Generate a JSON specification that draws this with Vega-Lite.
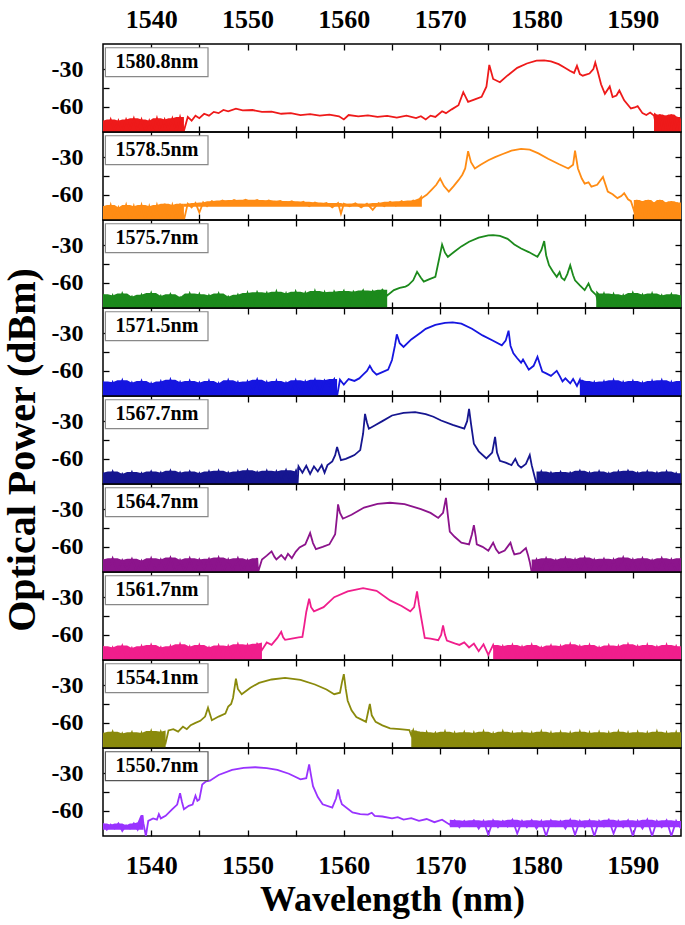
{
"$schema":"https://vega.github.io/schema/vega-lite/v6.json",
"padding":{"left":2,"top":5,"right":5,"bottom":5},
"config":{"font":"Liberation Serif","view":{"stroke":"black","strokeWidth":1.5},
"axis":{"grid":false,"domain":false,"tickColor":"black","tickWidth":1.3,"tickSize":-6,"labelFont":"Liberation Serif","labelFontWeight":"bold","labelFontSize":24,"labelColor":"black","titleFont":"Liberation Serif","titleFontWeight":"bold","titleFontSize":36,"titleColor":"black"}},
"datasets":{
"p1":[{"x":1535.0,"y":-71},{"x":1535.4,"y":-80},{"x":1535.8,"y":-70},{"x":1536.2,"y":-79},{"x":1536.6,"y":-71},{"x":1537.0,"y":-82},{"x":1537.4,"y":-70},{"x":1537.8,"y":-78},{"x":1538.2,"y":-69},{"x":1538.6,"y":-81},{"x":1539.0,"y":-70},{"x":1539.4,"y":-79},{"x":1539.8,"y":-71},{"x":1540.2,"y":-82},{"x":1540.6,"y":-69},{"x":1541.0,"y":-80},{"x":1541.4,"y":-70},{"x":1541.8,"y":-78},{"x":1542.2,"y":-69},{"x":1542.6,"y":-82},{"x":1543.0,"y":-68},{"x":1543.4,"y":-79},{"x":1543.8,"y":-68},{"x":1544.2,"y":-71},{"x":1544.6,"y":-67},{"x":1545.0,"y":-69},{"x":1545.5,"y":-65.5},{"x":1546.0,"y":-67},{"x":1546.5,"y":-64},{"x":1547.0,"y":-65},{"x":1547.5,"y":-62.5},{"x":1548.0,"y":-63.5},{"x":1548.8,"y":-61.5},{"x":1549.5,"y":-62.8},{"x":1550.5,"y":-62.5},{"x":1551.5,"y":-64},{"x":1552.5,"y":-63.8},{"x":1553.5,"y":-65.5},{"x":1554.5,"y":-65},{"x":1555.5,"y":-66.5},{"x":1556.5,"y":-65.8},{"x":1557.5,"y":-67},{"x":1558.5,"y":-66.2},{"x":1559.5,"y":-67.5},{"x":1560.0,"y":-70},{"x":1560.5,"y":-66.5},{"x":1561.5,"y":-67.5},{"x":1562.5,"y":-66.8},{"x":1563.5,"y":-68},{"x":1564.5,"y":-67.2},{"x":1565.5,"y":-68.5},{"x":1566.5,"y":-67},{"x":1567.5,"y":-69},{"x":1568.0,"y":-67.5},{"x":1568.5,"y":-70},{"x":1569.0,"y":-67},{"x":1569.5,"y":-68},{"x":1570.2,"y":-63.5},{"x":1570.6,"y":-65},{"x":1571.2,"y":-62},{"x":1571.9,"y":-58.7},{"x":1572.4,"y":-48.3},{"x":1572.9,"y":-56},{"x":1573.6,"y":-54},{"x":1574.3,"y":-52},{"x":1574.8,"y":-44},{"x":1575.1,"y":-26.6},{"x":1575.5,"y":-37.8},{"x":1576.2,"y":-40.4},{"x":1577.0,"y":-35},{"x":1578.0,"y":-29},{"x":1579.0,"y":-25.5},{"x":1580.0,"y":-23.3},{"x":1580.8,"y":-23},{"x":1581.5,"y":-23.8},{"x":1582.3,"y":-26},{"x":1582.9,"y":-28.7},{"x":1583.5,"y":-31.5},{"x":1583.9,"y":-33},{"x":1584.2,"y":-27.4},{"x":1584.5,"y":-34},{"x":1584.8,"y":-35.2},{"x":1585.5,"y":-33.5},{"x":1585.9,"y":-30},{"x":1586.1,"y":-24.8},{"x":1586.4,"y":-33},{"x":1586.7,"y":-42},{"x":1587.1,"y":-49.6},{"x":1587.6,"y":-43.8},{"x":1587.9,"y":-52.2},{"x":1588.3,"y":-51},{"x":1588.6,"y":-47},{"x":1589.1,"y":-54.8},{"x":1589.8,"y":-61.3},{"x":1590.2,"y":-60.5},{"x":1590.5,"y":-59.5},{"x":1591.0,"y":-65},{"x":1591.4,"y":-66.5},{"x":1591.8,"y":-64.5},{"x":1592.2,"y":-67},{"x":1592.5,"y":-78},{"x":1592.8,"y":-66},{"x":1593.1,"y":-80},{"x":1593.4,"y":-67},{"x":1593.7,"y":-82},{"x":1594.0,"y":-66},{"x":1594.3,"y":-81},{"x":1594.6,"y":-68},{"x":1594.9,"y":-83},{"x":1595.0,"y":-70}],
"p2":[{"x":1535.0,"y":-69},{"x":1535.4,"y":-79},{"x":1535.8,"y":-68},{"x":1536.2,"y":-81},{"x":1536.6,"y":-70},{"x":1537.0,"y":-78},{"x":1537.4,"y":-68},{"x":1537.8,"y":-80},{"x":1538.2,"y":-69},{"x":1538.6,"y":-82},{"x":1539.0,"y":-68},{"x":1539.4,"y":-79},{"x":1539.8,"y":-69},{"x":1540.2,"y":-81},{"x":1540.6,"y":-68},{"x":1541.0,"y":-78},{"x":1541.4,"y":-67},{"x":1541.8,"y":-80},{"x":1542.2,"y":-68},{"x":1542.6,"y":-79},{"x":1543.0,"y":-67},{"x":1543.4,"y":-82},{"x":1543.8,"y":-67},{"x":1544.2,"y":-70},{"x":1544.6,"y":-66.5},{"x":1545.0,"y":-74},{"x":1545.4,"y":-66},{"x":1545.8,"y":-69},{"x":1546.3,"y":-65},{"x":1546.8,"y":-67},{"x":1547.4,"y":-64.5},{"x":1548.0,"y":-66.5},{"x":1548.6,"y":-64},{"x":1549.2,"y":-66},{"x":1549.8,"y":-63.8},{"x":1550.4,"y":-66},{"x":1551.0,"y":-64},{"x":1551.6,"y":-66.5},{"x":1552.2,"y":-64.5},{"x":1552.8,"y":-66},{"x":1553.4,"y":-64.8},{"x":1554.0,"y":-67},{"x":1554.6,"y":-65},{"x":1555.2,"y":-67.5},{"x":1555.8,"y":-65.5},{"x":1556.4,"y":-69},{"x":1557.0,"y":-66},{"x":1557.6,"y":-68},{"x":1558.2,"y":-66.5},{"x":1558.8,"y":-70},{"x":1559.4,"y":-66.5},{"x":1559.7,"y":-75},{"x":1560.0,"y":-67},{"x":1560.6,"y":-69},{"x":1561.2,"y":-66.8},{"x":1561.8,"y":-70},{"x":1562.4,"y":-67},{"x":1563.0,"y":-72},{"x":1563.6,"y":-66.5},{"x":1564.2,"y":-69},{"x":1564.8,"y":-65.5},{"x":1565.4,"y":-68.5},{"x":1566.0,"y":-65},{"x":1566.6,"y":-68},{"x":1567.2,"y":-64.5},{"x":1567.8,"y":-66},{"x":1568.1,"y":-62.6},{"x":1568.6,"y":-60},{"x":1569.1,"y":-56},{"x":1569.6,"y":-52},{"x":1570.0,"y":-47},{"x":1570.4,"y":-53},{"x":1570.9,"y":-57.4},{"x":1571.4,"y":-53},{"x":1571.9,"y":-48.3},{"x":1572.3,"y":-44},{"x":1572.6,"y":-39},{"x":1572.9,"y":-25.3},{"x":1573.2,"y":-34},{"x":1573.6,"y":-39},{"x":1574.2,"y":-36},{"x":1575.0,"y":-32.5},{"x":1575.7,"y":-30},{"x":1576.5,"y":-27.5},{"x":1577.4,"y":-24.8},{"x":1578.4,"y":-23.5},{"x":1579.3,"y":-24},{"x":1580.2,"y":-27},{"x":1581.2,"y":-31.3},{"x":1582.3,"y":-35.5},{"x":1583.3,"y":-39},{"x":1583.8,"y":-36},{"x":1584.0,"y":-24.8},{"x":1584.3,"y":-39},{"x":1584.7,"y":-47},{"x":1585.0,"y":-51},{"x":1585.4,"y":-50},{"x":1585.7,"y":-53.5},{"x":1586.3,"y":-52},{"x":1586.9,"y":-45.7},{"x":1587.4,"y":-57.4},{"x":1587.9,"y":-59.5},{"x":1588.4,"y":-62.6},{"x":1588.8,"y":-61},{"x":1589.1,"y":-58.7},{"x":1589.5,"y":-63.5},{"x":1589.8,"y":-65},{"x":1590.1,"y":-72},{"x":1590.4,"y":-64},{"x":1590.7,"y":-77},{"x":1591.0,"y":-65},{"x":1591.3,"y":-79},{"x":1591.6,"y":-64},{"x":1591.9,"y":-76},{"x":1592.2,"y":-66},{"x":1592.5,"y":-80},{"x":1592.8,"y":-64},{"x":1593.1,"y":-78},{"x":1593.4,"y":-66},{"x":1593.7,"y":-79},{"x":1594.0,"y":-65},{"x":1594.3,"y":-77},{"x":1594.6,"y":-66},{"x":1595.0,"y":-78}],
"p3":[{"x":1535.0,"y":-69},{"x":1535.5,"y":-79},{"x":1536.0,"y":-70},{"x":1536.5,"y":-82},{"x":1537.0,"y":-68.5},{"x":1537.5,"y":-77},{"x":1538.0,"y":-71},{"x":1538.5,"y":-81},{"x":1539.0,"y":-69.5},{"x":1539.5,"y":-78},{"x":1540.0,"y":-68},{"x":1540.5,"y":-83},{"x":1541.0,"y":-70.5},{"x":1541.5,"y":-80},{"x":1542.0,"y":-69},{"x":1542.5,"y":-76},{"x":1543.0,"y":-71.5},{"x":1543.5,"y":-81},{"x":1544.0,"y":-68.5},{"x":1544.5,"y":-79},{"x":1545.0,"y":-69},{"x":1545.5,"y":-82},{"x":1546.0,"y":-70},{"x":1546.5,"y":-77},{"x":1547.0,"y":-68.5},{"x":1547.5,"y":-81},{"x":1548.0,"y":-71},{"x":1548.5,"y":-78},{"x":1549.0,"y":-69.5},{"x":1549.5,"y":-83},{"x":1550.0,"y":-68},{"x":1550.5,"y":-80},{"x":1551.0,"y":-67.5},{"x":1551.5,"y":-76},{"x":1552.0,"y":-68},{"x":1552.5,"y":-81},{"x":1553.0,"y":-67},{"x":1553.5,"y":-79},{"x":1554.0,"y":-68.5},{"x":1554.5,"y":-82},{"x":1555.0,"y":-67},{"x":1555.5,"y":-77},{"x":1556.0,"y":-68},{"x":1556.5,"y":-81},{"x":1557.0,"y":-66.5},{"x":1557.5,"y":-78},{"x":1558.0,"y":-67.5},{"x":1558.5,"y":-83},{"x":1559.0,"y":-67},{"x":1559.5,"y":-74},{"x":1560.0,"y":-66.5},{"x":1560.5,"y":-80},{"x":1561.0,"y":-67},{"x":1561.5,"y":-72},{"x":1562.0,"y":-66},{"x":1562.5,"y":-78},{"x":1563.0,"y":-66.5},{"x":1563.5,"y":-71},{"x":1564.0,"y":-65.5},{"x":1564.5,"y":-70},{"x":1565.2,"y":-65.8},{"x":1565.8,"y":-64},{"x":1566.4,"y":-63},{"x":1566.7,"y":-61.8},{"x":1567.2,"y":-58},{"x":1567.6,"y":-51.2},{"x":1568.0,"y":-56},{"x":1568.3,"y":-59},{"x":1568.9,"y":-57},{"x":1569.5,"y":-55.2},{"x":1569.9,"y":-40.6},{"x":1570.2,"y":-29.5},{"x":1570.5,"y":-36},{"x":1570.8,"y":-39.3},{"x":1571.5,"y":-35},{"x":1572.2,"y":-31},{"x":1573.0,"y":-27.3},{"x":1574.0,"y":-24},{"x":1575.0,"y":-22.3},{"x":1575.5,"y":-22},{"x":1576.2,"y":-22.6},{"x":1577.0,"y":-25},{"x":1577.7,"y":-29.5},{"x":1578.4,"y":-32.7},{"x":1579.2,"y":-35.5},{"x":1579.8,"y":-38},{"x":1580.1,"y":-39.3},{"x":1580.5,"y":-34},{"x":1580.8,"y":-26.8},{"x":1581.0,"y":-38},{"x":1581.3,"y":-46},{"x":1581.7,"y":-51},{"x":1582.1,"y":-55.2},{"x":1582.4,"y":-51.5},{"x":1582.6,"y":-56},{"x":1582.9,"y":-57.8},{"x":1583.2,"y":-53},{"x":1583.5,"y":-46},{"x":1583.8,"y":-54},{"x":1584.0,"y":-58},{"x":1584.5,"y":-62},{"x":1585.0,"y":-65.8},{"x":1585.4,"y":-60.5},{"x":1585.7,"y":-66},{"x":1586.2,"y":-69.8},{"x":1586.5,"y":-78},{"x":1587.0,"y":-68.5},{"x":1587.5,"y":-82},{"x":1588.0,"y":-69},{"x":1588.5,"y":-79},{"x":1589.0,"y":-70},{"x":1589.5,"y":-81},{"x":1590.0,"y":-68},{"x":1590.5,"y":-77},{"x":1591.0,"y":-69.5},{"x":1591.5,"y":-80},{"x":1592.0,"y":-68.5},{"x":1592.5,"y":-82},{"x":1593.0,"y":-70},{"x":1593.5,"y":-78},{"x":1594.0,"y":-69},{"x":1594.5,"y":-81},{"x":1595.0,"y":-70}],
"p4":[{"x":1535.0,"y":-68.5},{"x":1535.5,"y":-80},{"x":1536.0,"y":-69},{"x":1536.5,"y":-78},{"x":1537.0,"y":-67.5},{"x":1537.5,"y":-81},{"x":1538.0,"y":-69.5},{"x":1538.5,"y":-77},{"x":1539.0,"y":-68},{"x":1539.5,"y":-82},{"x":1540.0,"y":-70},{"x":1540.5,"y":-79},{"x":1541.0,"y":-68.5},{"x":1541.5,"y":-80},{"x":1542.0,"y":-67},{"x":1542.5,"y":-78},{"x":1543.0,"y":-69},{"x":1543.5,"y":-83},{"x":1544.0,"y":-68},{"x":1544.5,"y":-77},{"x":1545.0,"y":-69.5},{"x":1545.5,"y":-81},{"x":1546.0,"y":-68},{"x":1546.5,"y":-79},{"x":1547.0,"y":-70},{"x":1547.5,"y":-82},{"x":1548.0,"y":-67.5},{"x":1548.5,"y":-78},{"x":1549.0,"y":-69},{"x":1549.5,"y":-80},{"x":1550.0,"y":-68.5},{"x":1550.5,"y":-77},{"x":1551.0,"y":-67},{"x":1551.5,"y":-81},{"x":1552.0,"y":-69},{"x":1552.5,"y":-79},{"x":1553.0,"y":-68},{"x":1553.5,"y":-82},{"x":1554.0,"y":-69.5},{"x":1554.5,"y":-78},{"x":1555.0,"y":-67.5},{"x":1555.5,"y":-80},{"x":1556.0,"y":-68.5},{"x":1556.5,"y":-77},{"x":1557.0,"y":-67},{"x":1557.5,"y":-79},{"x":1558.0,"y":-67.5},{"x":1558.5,"y":-72},{"x":1559.0,"y":-66.5},{"x":1559.3,"y":-80},{"x":1559.6,"y":-67},{"x":1560.0,"y":-71},{"x":1560.5,"y":-66.5},{"x":1561.1,"y":-68},{"x":1561.6,"y":-66},{"x":1562.0,"y":-63},{"x":1562.4,"y":-60},{"x":1562.7,"y":-56},{"x":1563.0,"y":-60},{"x":1563.4,"y":-63},{"x":1564.0,"y":-61},{"x":1564.6,"y":-59},{"x":1565.0,"y":-51.4},{"x":1565.3,"y":-40},{"x":1565.5,"y":-31},{"x":1565.8,"y":-38},{"x":1566.2,"y":-41},{"x":1567.0,"y":-35},{"x":1568.0,"y":-29.5},{"x":1568.5,"y":-26.6},{"x":1569.5,"y":-23.5},{"x":1570.5,"y":-21.8},{"x":1571.3,"y":-21.4},{"x":1572.2,"y":-22.5},{"x":1573.3,"y":-26.5},{"x":1574.4,"y":-31.8},{"x":1575.5,"y":-36},{"x":1576.4,"y":-39.7},{"x":1576.8,"y":-36},{"x":1577.1,"y":-28},{"x":1577.3,"y":-40},{"x":1577.6,"y":-46},{"x":1578.0,"y":-50},{"x":1578.4,"y":-53.5},{"x":1578.6,"y":-51},{"x":1579.2,"y":-59},{"x":1579.7,"y":-56},{"x":1580.1,"y":-48.8},{"x":1580.4,"y":-56},{"x":1580.6,"y":-60.5},{"x":1581.0,"y":-62},{"x":1581.5,"y":-64},{"x":1581.8,"y":-62},{"x":1582.1,"y":-60},{"x":1582.4,"y":-64},{"x":1582.7,"y":-68.4},{"x":1583.0,"y":-66},{"x":1583.5,"y":-70},{"x":1583.8,"y":-66.5},{"x":1584.2,"y":-72},{"x":1584.5,"y":-67},{"x":1584.8,"y":-80},{"x":1585.0,"y":-68},{"x":1585.5,"y":-81},{"x":1586.0,"y":-69},{"x":1586.5,"y":-78},{"x":1587.0,"y":-68.5},{"x":1587.5,"y":-80},{"x":1588.0,"y":-67.5},{"x":1588.5,"y":-82},{"x":1589.0,"y":-69},{"x":1589.5,"y":-77},{"x":1590.0,"y":-68},{"x":1590.5,"y":-79},{"x":1591.0,"y":-69.5},{"x":1591.5,"y":-81},{"x":1592.0,"y":-68},{"x":1592.5,"y":-78},{"x":1593.0,"y":-67.5},{"x":1593.5,"y":-80},{"x":1594.0,"y":-69},{"x":1594.5,"y":-79},{"x":1595.0,"y":-68}],
"p5":[{"x":1535.0,"y":-71},{"x":1535.5,"y":-80},{"x":1536.0,"y":-70},{"x":1536.5,"y":-82},{"x":1537.0,"y":-72},{"x":1537.5,"y":-79},{"x":1538.0,"y":-70.5},{"x":1538.5,"y":-81},{"x":1539.0,"y":-71.5},{"x":1539.5,"y":-78},{"x":1540.0,"y":-70},{"x":1540.5,"y":-83},{"x":1541.0,"y":-71},{"x":1541.5,"y":-80},{"x":1542.0,"y":-69.5},{"x":1542.5,"y":-79},{"x":1543.0,"y":-71},{"x":1543.5,"y":-82},{"x":1544.0,"y":-70},{"x":1544.5,"y":-78},{"x":1545.0,"y":-71.5},{"x":1545.5,"y":-81},{"x":1546.0,"y":-70},{"x":1546.5,"y":-80},{"x":1547.0,"y":-69.5},{"x":1547.5,"y":-83},{"x":1548.0,"y":-71},{"x":1548.5,"y":-79},{"x":1549.0,"y":-70},{"x":1549.5,"y":-81},{"x":1550.0,"y":-69},{"x":1550.5,"y":-78},{"x":1551.0,"y":-70.5},{"x":1551.5,"y":-82},{"x":1552.0,"y":-69.5},{"x":1552.5,"y":-80},{"x":1553.0,"y":-70},{"x":1553.5,"y":-79},{"x":1554.0,"y":-69},{"x":1554.5,"y":-82},{"x":1555.0,"y":-70},{"x":1555.2,"y":-81},{"x":1555.3,"y":-66},{"x":1555.7,"y":-71},{"x":1556.1,"y":-65.5},{"x":1556.5,"y":-72},{"x":1556.9,"y":-66},{"x":1557.3,"y":-70},{"x":1557.7,"y":-65},{"x":1558.0,"y":-71},{"x":1558.3,"y":-65},{"x":1558.8,"y":-62},{"x":1559.1,"y":-57},{"x":1559.3,"y":-50.5},{"x":1559.5,"y":-56},{"x":1559.7,"y":-61},{"x":1560.2,"y":-60},{"x":1560.8,"y":-58},{"x":1561.1,"y":-57},{"x":1561.7,"y":-53},{"x":1562.0,"y":-40},{"x":1562.2,"y":-24.2},{"x":1562.4,"y":-31},{"x":1562.6,"y":-36},{"x":1563.2,"y":-33.5},{"x":1564.0,"y":-30},{"x":1565.0,"y":-25.5},{"x":1566.2,"y":-23.5},{"x":1567.4,"y":-22.9},{"x":1568.5,"y":-24.5},{"x":1569.3,"y":-26.5},{"x":1570.1,"y":-29.5},{"x":1571.3,"y":-33},{"x":1572.5,"y":-36},{"x":1572.8,"y":-30},{"x":1573.0,"y":-20.3},{"x":1573.2,"y":-32},{"x":1573.5,"y":-48},{"x":1574.0,"y":-54},{"x":1574.8,"y":-59.7},{"x":1575.4,"y":-55},{"x":1575.7,"y":-42.6},{"x":1575.9,"y":-55},{"x":1576.2,"y":-61.5},{"x":1576.8,"y":-63},{"x":1577.4,"y":-65},{"x":1577.8,"y":-60},{"x":1578.1,"y":-65},{"x":1578.4,"y":-67},{"x":1578.9,"y":-64},{"x":1579.3,"y":-57},{"x":1579.5,"y":-65},{"x":1579.8,"y":-74},{"x":1580.0,"y":-80},{"x":1580.5,"y":-70},{"x":1581.0,"y":-81},{"x":1581.5,"y":-71},{"x":1582.0,"y":-79},{"x":1582.5,"y":-70.5},{"x":1583.0,"y":-82},{"x":1583.5,"y":-71},{"x":1584.0,"y":-78},{"x":1584.5,"y":-69.5},{"x":1585.0,"y":-80},{"x":1585.5,"y":-71},{"x":1586.0,"y":-83},{"x":1586.5,"y":-70},{"x":1587.0,"y":-79},{"x":1587.5,"y":-71.5},{"x":1588.0,"y":-81},{"x":1588.5,"y":-70},{"x":1589.0,"y":-80},{"x":1589.5,"y":-69.5},{"x":1590.0,"y":-78},{"x":1590.5,"y":-71},{"x":1591.0,"y":-82},{"x":1591.5,"y":-70},{"x":1592.0,"y":-79},{"x":1592.5,"y":-71},{"x":1593.0,"y":-81},{"x":1593.5,"y":-70},{"x":1594.0,"y":-80},{"x":1594.5,"y":-71.5},{"x":1595.0,"y":-79}],
"p6":[{"x":1535.0,"y":-70},{"x":1535.5,"y":-79},{"x":1536.0,"y":-69},{"x":1536.5,"y":-82},{"x":1537.0,"y":-70.5},{"x":1537.5,"y":-78},{"x":1538.0,"y":-69.5},{"x":1538.5,"y":-81},{"x":1539.0,"y":-71},{"x":1539.5,"y":-80},{"x":1540.0,"y":-69},{"x":1540.5,"y":-83},{"x":1541.0,"y":-70},{"x":1541.5,"y":-78},{"x":1542.0,"y":-68.5},{"x":1542.5,"y":-81},{"x":1543.0,"y":-70.5},{"x":1543.5,"y":-79},{"x":1544.0,"y":-69},{"x":1544.5,"y":-82},{"x":1545.0,"y":-70},{"x":1545.5,"y":-77},{"x":1546.0,"y":-69.5},{"x":1546.5,"y":-80},{"x":1547.0,"y":-68.5},{"x":1547.5,"y":-81},{"x":1548.0,"y":-70},{"x":1548.5,"y":-79},{"x":1549.0,"y":-69},{"x":1549.5,"y":-83},{"x":1550.0,"y":-70.5},{"x":1550.5,"y":-78},{"x":1551.0,"y":-69},{"x":1551.1,"y":-80},{"x":1551.5,"y":-70},{"x":1552.0,"y":-67},{"x":1552.5,"y":-63.6},{"x":1552.8,"y":-68},{"x":1553.0,"y":-70},{"x":1553.5,"y":-66.5},{"x":1553.9,"y":-70},{"x":1554.2,"y":-65.5},{"x":1554.6,"y":-69},{"x":1555.0,"y":-64},{"x":1555.4,"y":-60.5},{"x":1556.0,"y":-58},{"x":1556.5,"y":-49},{"x":1556.8,"y":-57},{"x":1557.1,"y":-61.8},{"x":1557.8,"y":-60},{"x":1558.5,"y":-58},{"x":1559.1,"y":-50},{"x":1559.3,"y":-35},{"x":1559.4,"y":-26.2},{"x":1559.6,"y":-33},{"x":1559.9,"y":-37.6},{"x":1560.8,"y":-34.5},{"x":1562.1,"y":-28.7},{"x":1563.5,"y":-25.8},{"x":1564.8,"y":-24.9},{"x":1566.3,"y":-26},{"x":1568.0,"y":-30},{"x":1569.0,"y":-33},{"x":1569.8,"y":-37},{"x":1570.3,"y":-33},{"x":1570.6,"y":-21},{"x":1570.8,"y":-35},{"x":1571.0,"y":-47.8},{"x":1571.5,"y":-52},{"x":1572.2,"y":-56.7},{"x":1573.0,"y":-58},{"x":1573.3,"y":-50},{"x":1573.5,"y":-42.7},{"x":1573.7,"y":-52},{"x":1573.8,"y":-58},{"x":1574.4,"y":-60},{"x":1575.0,"y":-63},{"x":1575.5,"y":-56.7},{"x":1575.8,"y":-62},{"x":1576.1,"y":-65},{"x":1576.7,"y":-63},{"x":1577.3,"y":-56.7},{"x":1577.5,"y":-62},{"x":1577.7,"y":-66},{"x":1578.3,"y":-65},{"x":1578.9,"y":-61},{"x":1579.1,"y":-66},{"x":1579.3,"y":-72},{"x":1579.5,"y":-80},{"x":1580.0,"y":-70},{"x":1580.5,"y":-81},{"x":1581.0,"y":-69},{"x":1581.5,"y":-78},{"x":1582.0,"y":-70.5},{"x":1582.5,"y":-82},{"x":1583.0,"y":-69},{"x":1583.5,"y":-79},{"x":1584.0,"y":-70},{"x":1584.5,"y":-80},{"x":1585.0,"y":-68.5},{"x":1585.5,"y":-83},{"x":1586.0,"y":-70},{"x":1586.5,"y":-78},{"x":1587.0,"y":-69.5},{"x":1587.5,"y":-81},{"x":1588.0,"y":-70},{"x":1588.5,"y":-79},{"x":1589.0,"y":-68.5},{"x":1589.5,"y":-80},{"x":1590.0,"y":-70},{"x":1590.5,"y":-82},{"x":1591.0,"y":-69},{"x":1591.5,"y":-78},{"x":1592.0,"y":-70.5},{"x":1592.5,"y":-81},{"x":1593.0,"y":-69},{"x":1593.5,"y":-79},{"x":1594.0,"y":-70},{"x":1594.5,"y":-82},{"x":1595.0,"y":-69}],
"p7":[{"x":1535.0,"y":-69},{"x":1535.5,"y":-80},{"x":1536.0,"y":-70},{"x":1536.5,"y":-78},{"x":1537.0,"y":-68.5},{"x":1537.5,"y":-82},{"x":1538.0,"y":-70.5},{"x":1538.5,"y":-79},{"x":1539.0,"y":-69},{"x":1539.5,"y":-81},{"x":1540.0,"y":-68},{"x":1540.5,"y":-77},{"x":1541.0,"y":-70},{"x":1541.5,"y":-80},{"x":1542.0,"y":-69},{"x":1542.5,"y":-83},{"x":1543.0,"y":-67.5},{"x":1543.5,"y":-79},{"x":1544.0,"y":-69.5},{"x":1544.5,"y":-81},{"x":1545.0,"y":-68},{"x":1545.5,"y":-78},{"x":1546.0,"y":-70},{"x":1546.5,"y":-82},{"x":1547.0,"y":-68.5},{"x":1547.5,"y":-80},{"x":1548.0,"y":-69},{"x":1548.5,"y":-79},{"x":1549.0,"y":-67.5},{"x":1549.5,"y":-81},{"x":1550.0,"y":-68},{"x":1550.5,"y":-76},{"x":1551.0,"y":-67},{"x":1551.5,"y":-72},{"x":1552.0,"y":-66},{"x":1552.5,"y":-68},{"x":1553.1,"y":-62.4},{"x":1553.5,"y":-57.6},{"x":1553.7,"y":-62},{"x":1553.9,"y":-64},{"x":1554.6,"y":-63},{"x":1555.3,"y":-62},{"x":1555.7,"y":-61.6},{"x":1555.9,"y":-52},{"x":1556.1,"y":-41.8},{"x":1556.4,"y":-31.3},{"x":1556.6,"y":-38},{"x":1556.9,"y":-41.3},{"x":1557.9,"y":-38},{"x":1559.0,"y":-30},{"x":1560.4,"y":-25.5},{"x":1562.0,"y":-22.9},{"x":1563.4,"y":-25},{"x":1564.8,"y":-32.6},{"x":1566.0,"y":-37},{"x":1566.9,"y":-41.3},{"x":1567.3,"y":-38},{"x":1567.6,"y":-25.5},{"x":1567.8,"y":-36},{"x":1568.0,"y":-45},{"x":1568.4,"y":-62.4},{"x":1569.0,"y":-63},{"x":1569.8,"y":-64.2},{"x":1570.1,"y":-60},{"x":1570.3,"y":-52.4},{"x":1570.5,"y":-60},{"x":1570.7,"y":-64.5},{"x":1571.5,"y":-66.8},{"x":1572.0,"y":-68},{"x":1572.5,"y":-66},{"x":1573.0,"y":-70},{"x":1573.5,"y":-67},{"x":1574.0,"y":-73},{"x":1574.5,"y":-67.5},{"x":1575.0,"y":-76},{"x":1575.5,"y":-68},{"x":1576.0,"y":-80},{"x":1576.5,"y":-69},{"x":1577.0,"y":-78},{"x":1577.5,"y":-68},{"x":1578.0,"y":-81},{"x":1578.5,"y":-69.5},{"x":1579.0,"y":-79},{"x":1579.5,"y":-68},{"x":1580.0,"y":-82},{"x":1580.5,"y":-70},{"x":1581.0,"y":-77},{"x":1581.5,"y":-68.5},{"x":1582.0,"y":-80},{"x":1582.5,"y":-69},{"x":1583.0,"y":-79},{"x":1583.5,"y":-67.5},{"x":1584.0,"y":-81},{"x":1584.5,"y":-69},{"x":1585.0,"y":-78},{"x":1585.5,"y":-68},{"x":1586.0,"y":-83},{"x":1586.5,"y":-70},{"x":1587.0,"y":-79},{"x":1587.5,"y":-68.5},{"x":1588.0,"y":-80},{"x":1588.5,"y":-69},{"x":1589.0,"y":-82},{"x":1589.5,"y":-67.5},{"x":1590.0,"y":-78},{"x":1590.5,"y":-69},{"x":1591.0,"y":-80},{"x":1591.5,"y":-68},{"x":1592.0,"y":-81},{"x":1592.5,"y":-69.5},{"x":1593.0,"y":-79},{"x":1593.5,"y":-68},{"x":1594.0,"y":-82},{"x":1594.5,"y":-69},{"x":1595.0,"y":-78}],
"p8":[{"x":1535.0,"y":-68},{"x":1535.5,"y":-77},{"x":1536.0,"y":-67},{"x":1536.5,"y":-79},{"x":1537.0,"y":-68.5},{"x":1537.5,"y":-76},{"x":1538.0,"y":-67.5},{"x":1538.5,"y":-80},{"x":1539.0,"y":-68},{"x":1539.5,"y":-78},{"x":1540.0,"y":-66.5},{"x":1540.5,"y":-81},{"x":1541.0,"y":-67},{"x":1541.5,"y":-76},{"x":1541.8,"y":-66},{"x":1542.3,"y":-65},{"x":1542.8,"y":-67},{"x":1543.3,"y":-63},{"x":1543.7,"y":-65},{"x":1544.1,"y":-61.8},{"x":1544.6,"y":-60},{"x":1545.1,"y":-58.4},{"x":1545.6,"y":-55},{"x":1545.9,"y":-48},{"x":1546.1,"y":-53},{"x":1546.3,"y":-57.9},{"x":1547.0,"y":-55},{"x":1547.7,"y":-52.7},{"x":1548.0,"y":-47},{"x":1548.3,"y":-45},{"x":1548.5,"y":-40},{"x":1548.8,"y":-24.8},{"x":1549.0,"y":-33},{"x":1549.4,"y":-37.2},{"x":1550.3,"y":-32},{"x":1551.2,"y":-28.2},{"x":1552.5,"y":-25.5},{"x":1553.9,"y":-24.3},{"x":1555.5,"y":-25.8},{"x":1557.0,"y":-29.5},{"x":1558.2,"y":-33.5},{"x":1559.0,"y":-37.2},{"x":1559.6,"y":-36},{"x":1559.8,"y":-28},{"x":1560.0,"y":-21.2},{"x":1560.2,"y":-33},{"x":1560.4,"y":-42.4},{"x":1560.8,"y":-50},{"x":1561.3,"y":-55.3},{"x":1562.0,"y":-58},{"x":1562.3,"y":-59.2},{"x":1562.5,"y":-52},{"x":1562.7,"y":-45},{"x":1562.9,"y":-54},{"x":1563.3,"y":-59.2},{"x":1564.0,"y":-62},{"x":1564.8,"y":-64.4},{"x":1565.8,"y":-65},{"x":1566.8,"y":-65.7},{"x":1567.0,"y":-70},{"x":1567.2,"y":-66},{"x":1567.5,"y":-76},{"x":1567.8,"y":-67},{"x":1568.2,"y":-80},{"x":1568.6,"y":-67.5},{"x":1569.0,"y":-74},{"x":1569.5,"y":-68},{"x":1570.0,"y":-79},{"x":1570.5,"y":-67},{"x":1571.0,"y":-81},{"x":1571.5,"y":-68},{"x":1572.0,"y":-78},{"x":1572.5,"y":-67.5},{"x":1573.0,"y":-82},{"x":1573.5,"y":-68},{"x":1574.0,"y":-79},{"x":1574.5,"y":-67},{"x":1575.0,"y":-80},{"x":1575.5,"y":-68.5},{"x":1576.0,"y":-82},{"x":1576.5,"y":-67},{"x":1577.0,"y":-79},{"x":1577.5,"y":-68},{"x":1578.0,"y":-81},{"x":1578.5,"y":-67.5},{"x":1579.0,"y":-78},{"x":1579.5,"y":-68},{"x":1580.0,"y":-82},{"x":1580.5,"y":-67},{"x":1581.0,"y":-79},{"x":1581.5,"y":-68},{"x":1582.0,"y":-81},{"x":1582.5,"y":-67.5},{"x":1583.0,"y":-80},{"x":1583.5,"y":-68},{"x":1584.0,"y":-82},{"x":1584.5,"y":-67},{"x":1585.0,"y":-79},{"x":1585.5,"y":-68},{"x":1586.0,"y":-81},{"x":1586.5,"y":-67.5},{"x":1587.0,"y":-80},{"x":1587.5,"y":-68},{"x":1588.0,"y":-82},{"x":1588.5,"y":-67},{"x":1589.0,"y":-79},{"x":1589.5,"y":-68},{"x":1590.0,"y":-81},{"x":1590.5,"y":-67.5},{"x":1591.0,"y":-80},{"x":1591.5,"y":-68},{"x":1592.0,"y":-82},{"x":1592.5,"y":-67},{"x":1593.0,"y":-79},{"x":1593.5,"y":-68},{"x":1594.0,"y":-81},{"x":1594.5,"y":-67.5},{"x":1595.0,"y":-80}],
"p9":[{"x":1535.0,"y":-70},{"x":1535.4,"y":-75},{"x":1535.8,"y":-71},{"x":1536.2,"y":-74},{"x":1536.6,"y":-70},{"x":1537.0,"y":-76},{"x":1537.4,"y":-71.5},{"x":1537.8,"y":-74},{"x":1538.2,"y":-70},{"x":1538.6,"y":-75},{"x":1538.9,"y":-69},{"x":1539.06,"y":-63.4},{"x":1539.2,"y":-70},{"x":1539.45,"y":-82},{"x":1539.7,"y":-68},{"x":1540.2,"y":-66},{"x":1540.6,"y":-67},{"x":1540.8,"y":-62.6},{"x":1541.0,"y":-66},{"x":1541.5,"y":-64},{"x":1542.2,"y":-58.7},{"x":1542.7,"y":-55},{"x":1543.0,"y":-46},{"x":1543.2,"y":-53},{"x":1543.4,"y":-58.7},{"x":1543.9,"y":-56},{"x":1544.3,"y":-55},{"x":1544.6,"y":-48},{"x":1544.8,"y":-52},{"x":1545.0,"y":-51},{"x":1545.3,"y":-39},{"x":1545.7,"y":-36.5},{"x":1546.1,"y":-36},{"x":1547.0,"y":-31.5},{"x":1548.4,"y":-27.4},{"x":1549.6,"y":-25.8},{"x":1550.8,"y":-25.3},{"x":1552.0,"y":-26},{"x":1553.1,"y":-27.4},{"x":1554.3,"y":-30.5},{"x":1555.5,"y":-35},{"x":1556.1,"y":-34},{"x":1556.4,"y":-23},{"x":1556.6,"y":-32},{"x":1556.8,"y":-40.4},{"x":1557.3,"y":-49},{"x":1557.8,"y":-54.8},{"x":1558.8,"y":-57.4},{"x":1559.2,"y":-50},{"x":1559.4,"y":-43},{"x":1559.6,"y":-50},{"x":1559.8,"y":-54.8},{"x":1560.9,"y":-61.3},{"x":1561.7,"y":-62.6},{"x":1562.5,"y":-63},{"x":1562.9,"y":-61.5},{"x":1563.2,"y":-64},{"x":1564.0,"y":-64.5},{"x":1565.0,"y":-66},{"x":1565.6,"y":-65},{"x":1566.2,"y":-67},{"x":1567.0,"y":-65.8},{"x":1567.8,"y":-68},{"x":1568.6,"y":-66.5},{"x":1569.4,"y":-69},{"x":1570.2,"y":-67},{"x":1571.0,"y":-71},{"x":1571.5,"y":-67.5},{"x":1572.0,"y":-73},{"x":1572.5,"y":-68},{"x":1573.0,"y":-72},{"x":1573.5,"y":-67.5},{"x":1574.0,"y":-74},{"x":1574.5,"y":-68},{"x":1575.0,"y":-79},{"x":1575.5,"y":-67.5},{"x":1576.0,"y":-73},{"x":1576.5,"y":-68},{"x":1577.0,"y":-72.5},{"x":1577.5,"y":-67},{"x":1578.0,"y":-78},{"x":1578.5,"y":-68},{"x":1579.0,"y":-73},{"x":1579.5,"y":-67.5},{"x":1580.0,"y":-74},{"x":1580.5,"y":-68},{"x":1581.0,"y":-80},{"x":1581.5,"y":-67.5},{"x":1582.0,"y":-72},{"x":1582.5,"y":-68},{"x":1583.0,"y":-74},{"x":1583.5,"y":-67},{"x":1584.0,"y":-79},{"x":1584.5,"y":-68},{"x":1585.0,"y":-73},{"x":1585.5,"y":-67.5},{"x":1586.0,"y":-80},{"x":1586.5,"y":-68},{"x":1587.0,"y":-72.5},{"x":1587.5,"y":-67},{"x":1588.0,"y":-78},{"x":1588.5,"y":-68},{"x":1589.0,"y":-73},{"x":1589.5,"y":-67.5},{"x":1590.0,"y":-80},{"x":1590.5,"y":-68},{"x":1591.0,"y":-74},{"x":1591.5,"y":-67},{"x":1592.0,"y":-81},{"x":1592.5,"y":-68},{"x":1593.0,"y":-73},{"x":1593.5,"y":-67.5},{"x":1594.0,"y":-80},{"x":1594.5,"y":-68},{"x":1595.0,"y":-74}]
},
"hconcat":[
{"width":20,"height":812,"view":{"stroke":null},"data":{"values":[{"t":"Optical Power (dBm)"}]},
 "mark":{"type":"text","angle":270,"fontSize":40,"fontWeight":"bold","font":"Liberation Serif","align":"center","baseline":"middle","color":"black"},
 "encoding":{"text":{"field":"t","type":"nominal"}}},
{"spacing":0,"bounds":"flush","vconcat":[
{"width":578,"height":88,"data":{"name":"p1"},"resolve":{"axis":{"x":"independent","y":"independent"}},"layer":[
 {"transform":[{"window":[{"op":"max","field":"y","as":"top"}],"frame":[-1,1],"sort":[{"field":"x"}]},{"filter":"datum.x <= 1543.4"}],"mark":{"type":"area","color":"#ee1a1a","clip":true},"encoding":{"x":{"field":"x","type":"quantitative","axis":null,"scale":{"domain":[1535,1595],"nice":false,"zero":false}},"y":{"field":"top","type":"quantitative","axis":null,"scale":{"domain":[-80,-10],"nice":false,"zero":false,"clamp":true}},"y2":{"datum":-80}}},
 {"transform":[{"window":[{"op":"max","field":"y","as":"top"}],"frame":[-1,1],"sort":[{"field":"x"}]},{"filter":"datum.x >= 1592.2"}],"mark":{"type":"area","color":"#ee1a1a","clip":true},"encoding":{"x":{"field":"x","type":"quantitative","axis":null},"y":{"field":"top","type":"quantitative","axis":null},"y2":{"datum":-80}}},
 {"mark":{"type":"line","color":"#ee1a1a","strokeWidth":1.8,"clip":true},"encoding":{"x":{"field":"x","type":"quantitative","scale":{"domain":[1535,1595],"nice":false,"zero":false},"axis":{"orient":"bottom","values":[1540,1545,1550,1555,1560,1565,1570,1575,1580,1585,1590],"labels":false,"title":null}},"y":{"field":"y","type":"quantitative","scale":{"domain":[-80,-10],"nice":false,"zero":false,"clamp":true},"axis":{"orient":"left","values":[-30,-45,-60],"labelExpr":"datum.value === -45 ? '' : '-' + abs(datum.value)","labelPadding":26,"title":null}}}},
 {"data":{"values":[{}]},"mark":{"type":"rect","fill":"white","stroke":"#888888","strokeWidth":1.2},"encoding":{"x":{"datum":1535.25,"type":"quantitative","axis":{"orient":"top","values":[1540,1545,1550,1555,1560,1565,1570,1575,1580,1585,1590],"labelExpr":"datum.value % 10 === 0 ? '' + datum.value : ''","labelPadding":18,"labelFontSize":26,"title":null}},"x2":{"datum":1545.9},"y":{"datum":-13,"type":"quantitative","axis":{"orient":"right","values":[-30,-45,-60],"labels":false,"title":null}},"y2":{"datum":-36}}},
 {"data":{"values":[{"t":"1580.8nm"}]},"mark":{"type":"text","fontSize":20,"fontWeight":"bold","font":"Liberation Serif","color":"black"},"encoding":{"x":{"datum":1540.6,"type":"quantitative","axis":null},"y":{"datum":-24.5,"type":"quantitative","axis":null},"text":{"field":"t","type":"nominal"}}}
]},
{"width":578,"height":88,"data":{"name":"p2"},"resolve":{"axis":{"x":"independent","y":"independent"}},"layer":[
 {"transform":[{"window":[{"op":"max","field":"y","as":"top"}],"frame":[-1,1],"sort":[{"field":"x"}]},{"filter":"datum.x <= 1543.4"}],"mark":{"type":"area","color":"#ff8c14","clip":true},"encoding":{"x":{"field":"x","type":"quantitative","axis":null,"scale":{"domain":[1535,1595],"nice":false,"zero":false}},"y":{"field":"top","type":"quantitative","axis":null,"scale":{"domain":[-80,-10],"nice":false,"zero":false,"clamp":true}},"y2":{"datum":-80}}},
 {"transform":[{"window":[{"op":"max","field":"y","as":"top"}],"frame":[-1,1],"sort":[{"field":"x"}]},{"filter":"datum.x >= 1543.4 && datum.x <= 1568.1"}],"mark":{"type":"area","color":"#ff8c14","clip":true},"encoding":{"x":{"field":"x","type":"quantitative","axis":null},"y":{"field":"top","type":"quantitative","axis":null},"y2":{"datum":-69.5}}},
 {"transform":[{"window":[{"op":"max","field":"y","as":"top"}],"frame":[-1,1],"sort":[{"field":"x"}]},{"filter":"datum.x >= 1590.1"}],"mark":{"type":"area","color":"#ff8c14","clip":true},"encoding":{"x":{"field":"x","type":"quantitative","axis":null},"y":{"field":"top","type":"quantitative","axis":null},"y2":{"datum":-80}}},
 {"mark":{"type":"line","color":"#ff8c14","strokeWidth":1.8,"clip":true},"encoding":{"x":{"field":"x","type":"quantitative","scale":{"domain":[1535,1595],"nice":false,"zero":false},"axis":{"orient":"bottom","values":[1540,1545,1550,1555,1560,1565,1570,1575,1580,1585,1590],"labels":false,"title":null}},"y":{"field":"y","type":"quantitative","scale":{"domain":[-80,-10],"nice":false,"zero":false,"clamp":true},"axis":{"orient":"left","values":[-30,-45,-60],"labelExpr":"datum.value === -45 ? '' : '-' + abs(datum.value)","labelPadding":26,"title":null}}}},
 {"data":{"values":[{}]},"mark":{"type":"rect","fill":"white","stroke":"#888888","strokeWidth":1.2},"encoding":{"x":{"datum":1535.25,"type":"quantitative","axis":{"orient":"top","values":[1540,1545,1550,1555,1560,1565,1570,1575,1580,1585,1590],"labels":false,"title":null}},"x2":{"datum":1545.9},"y":{"datum":-13,"type":"quantitative","axis":{"orient":"right","values":[-30,-45,-60],"labels":false,"title":null}},"y2":{"datum":-36}}},
 {"data":{"values":[{"t":"1578.5nm"}]},"mark":{"type":"text","fontSize":20,"fontWeight":"bold","font":"Liberation Serif","color":"black"},"encoding":{"x":{"datum":1540.6,"type":"quantitative","axis":null},"y":{"datum":-24.5,"type":"quantitative","axis":null},"text":{"field":"t","type":"nominal"}}}
]},
{"width":578,"height":88,"data":{"name":"p3"},"resolve":{"axis":{"x":"independent","y":"independent"}},"layer":[
 {"transform":[{"window":[{"op":"max","field":"y","as":"top"}],"frame":[-1,1],"sort":[{"field":"x"}]},{"filter":"datum.x <= 1564.5"}],"mark":{"type":"area","color":"#1c8a1c","clip":true},"encoding":{"x":{"field":"x","type":"quantitative","axis":null,"scale":{"domain":[1535,1595],"nice":false,"zero":false}},"y":{"field":"top","type":"quantitative","axis":null,"scale":{"domain":[-80,-10],"nice":false,"zero":false,"clamp":true}},"y2":{"datum":-80}}},
 {"transform":[{"window":[{"op":"max","field":"y","as":"top"}],"frame":[-1,1],"sort":[{"field":"x"}]},{"filter":"datum.x >= 1586.2"}],"mark":{"type":"area","color":"#1c8a1c","clip":true},"encoding":{"x":{"field":"x","type":"quantitative","axis":null},"y":{"field":"top","type":"quantitative","axis":null},"y2":{"datum":-80}}},
 {"mark":{"type":"line","color":"#1c8a1c","strokeWidth":1.8,"clip":true},"encoding":{"x":{"field":"x","type":"quantitative","scale":{"domain":[1535,1595],"nice":false,"zero":false},"axis":{"orient":"bottom","values":[1540,1545,1550,1555,1560,1565,1570,1575,1580,1585,1590],"labels":false,"title":null}},"y":{"field":"y","type":"quantitative","scale":{"domain":[-80,-10],"nice":false,"zero":false,"clamp":true},"axis":{"orient":"left","values":[-30,-45,-60],"labelExpr":"datum.value === -45 ? '' : '-' + abs(datum.value)","labelPadding":26,"title":null}}}},
 {"data":{"values":[{}]},"mark":{"type":"rect","fill":"white","stroke":"#888888","strokeWidth":1.2},"encoding":{"x":{"datum":1535.25,"type":"quantitative","axis":{"orient":"top","values":[1540,1545,1550,1555,1560,1565,1570,1575,1580,1585,1590],"labels":false,"title":null}},"x2":{"datum":1545.9},"y":{"datum":-13,"type":"quantitative","axis":{"orient":"right","values":[-30,-45,-60],"labels":false,"title":null}},"y2":{"datum":-36}}},
 {"data":{"values":[{"t":"1575.7nm"}]},"mark":{"type":"text","fontSize":20,"fontWeight":"bold","font":"Liberation Serif","color":"black"},"encoding":{"x":{"datum":1540.6,"type":"quantitative","axis":null},"y":{"datum":-24.5,"type":"quantitative","axis":null},"text":{"field":"t","type":"nominal"}}}
]},
{"width":578,"height":88,"data":{"name":"p4"},"resolve":{"axis":{"x":"independent","y":"independent"}},"layer":[
 {"transform":[{"window":[{"op":"max","field":"y","as":"top"}],"frame":[-1,1],"sort":[{"field":"x"}]},{"filter":"datum.x <= 1559.3"}],"mark":{"type":"area","color":"#1616e0","clip":true},"encoding":{"x":{"field":"x","type":"quantitative","axis":null,"scale":{"domain":[1535,1595],"nice":false,"zero":false}},"y":{"field":"top","type":"quantitative","axis":null,"scale":{"domain":[-80,-10],"nice":false,"zero":false,"clamp":true}},"y2":{"datum":-80}}},
 {"transform":[{"window":[{"op":"max","field":"y","as":"top"}],"frame":[-1,1],"sort":[{"field":"x"}]},{"filter":"datum.x >= 1584.5"}],"mark":{"type":"area","color":"#1616e0","clip":true},"encoding":{"x":{"field":"x","type":"quantitative","axis":null},"y":{"field":"top","type":"quantitative","axis":null},"y2":{"datum":-80}}},
 {"mark":{"type":"line","color":"#1616e0","strokeWidth":1.8,"clip":true},"encoding":{"x":{"field":"x","type":"quantitative","scale":{"domain":[1535,1595],"nice":false,"zero":false},"axis":{"orient":"bottom","values":[1540,1545,1550,1555,1560,1565,1570,1575,1580,1585,1590],"labels":false,"title":null}},"y":{"field":"y","type":"quantitative","scale":{"domain":[-80,-10],"nice":false,"zero":false,"clamp":true},"axis":{"orient":"left","values":[-30,-45,-60],"labelExpr":"datum.value === -45 ? '' : '-' + abs(datum.value)","labelPadding":26,"title":null}}}},
 {"data":{"values":[{}]},"mark":{"type":"rect","fill":"white","stroke":"#888888","strokeWidth":1.2},"encoding":{"x":{"datum":1535.25,"type":"quantitative","axis":{"orient":"top","values":[1540,1545,1550,1555,1560,1565,1570,1575,1580,1585,1590],"labels":false,"title":null}},"x2":{"datum":1545.9},"y":{"datum":-13,"type":"quantitative","axis":{"orient":"right","values":[-30,-45,-60],"labels":false,"title":null}},"y2":{"datum":-36}}},
 {"data":{"values":[{"t":"1571.5nm"}]},"mark":{"type":"text","fontSize":20,"fontWeight":"bold","font":"Liberation Serif","color":"black"},"encoding":{"x":{"datum":1540.6,"type":"quantitative","axis":null},"y":{"datum":-24.5,"type":"quantitative","axis":null},"text":{"field":"t","type":"nominal"}}}
]},
{"width":578,"height":88,"data":{"name":"p5"},"resolve":{"axis":{"x":"independent","y":"independent"}},"layer":[
 {"transform":[{"window":[{"op":"max","field":"y","as":"top"}],"frame":[-1,1],"sort":[{"field":"x"}]},{"filter":"datum.x <= 1555.2"}],"mark":{"type":"area","color":"#161690","clip":true},"encoding":{"x":{"field":"x","type":"quantitative","axis":null,"scale":{"domain":[1535,1595],"nice":false,"zero":false}},"y":{"field":"top","type":"quantitative","axis":null,"scale":{"domain":[-80,-10],"nice":false,"zero":false,"clamp":true}},"y2":{"datum":-80}}},
 {"transform":[{"window":[{"op":"max","field":"y","as":"top"}],"frame":[-1,1],"sort":[{"field":"x"}]},{"filter":"datum.x >= 1580.0"}],"mark":{"type":"area","color":"#161690","clip":true},"encoding":{"x":{"field":"x","type":"quantitative","axis":null},"y":{"field":"top","type":"quantitative","axis":null},"y2":{"datum":-80}}},
 {"mark":{"type":"line","color":"#161690","strokeWidth":1.8,"clip":true},"encoding":{"x":{"field":"x","type":"quantitative","scale":{"domain":[1535,1595],"nice":false,"zero":false},"axis":{"orient":"bottom","values":[1540,1545,1550,1555,1560,1565,1570,1575,1580,1585,1590],"labels":false,"title":null}},"y":{"field":"y","type":"quantitative","scale":{"domain":[-80,-10],"nice":false,"zero":false,"clamp":true},"axis":{"orient":"left","values":[-30,-45,-60],"labelExpr":"datum.value === -45 ? '' : '-' + abs(datum.value)","labelPadding":26,"title":null}}}},
 {"data":{"values":[{}]},"mark":{"type":"rect","fill":"white","stroke":"#888888","strokeWidth":1.2},"encoding":{"x":{"datum":1535.25,"type":"quantitative","axis":{"orient":"top","values":[1540,1545,1550,1555,1560,1565,1570,1575,1580,1585,1590],"labels":false,"title":null}},"x2":{"datum":1545.9},"y":{"datum":-13,"type":"quantitative","axis":{"orient":"right","values":[-30,-45,-60],"labels":false,"title":null}},"y2":{"datum":-36}}},
 {"data":{"values":[{"t":"1567.7nm"}]},"mark":{"type":"text","fontSize":20,"fontWeight":"bold","font":"Liberation Serif","color":"black"},"encoding":{"x":{"datum":1540.6,"type":"quantitative","axis":null},"y":{"datum":-24.5,"type":"quantitative","axis":null},"text":{"field":"t","type":"nominal"}}}
]},
{"width":578,"height":88,"data":{"name":"p6"},"resolve":{"axis":{"x":"independent","y":"independent"}},"layer":[
 {"transform":[{"window":[{"op":"max","field":"y","as":"top"}],"frame":[-1,1],"sort":[{"field":"x"}]},{"filter":"datum.x <= 1551.1"}],"mark":{"type":"area","color":"#8c148c","clip":true},"encoding":{"x":{"field":"x","type":"quantitative","axis":null,"scale":{"domain":[1535,1595],"nice":false,"zero":false}},"y":{"field":"top","type":"quantitative","axis":null,"scale":{"domain":[-80,-10],"nice":false,"zero":false,"clamp":true}},"y2":{"datum":-80}}},
 {"transform":[{"window":[{"op":"max","field":"y","as":"top"}],"frame":[-1,1],"sort":[{"field":"x"}]},{"filter":"datum.x >= 1579.5"}],"mark":{"type":"area","color":"#8c148c","clip":true},"encoding":{"x":{"field":"x","type":"quantitative","axis":null},"y":{"field":"top","type":"quantitative","axis":null},"y2":{"datum":-80}}},
 {"mark":{"type":"line","color":"#8c148c","strokeWidth":1.8,"clip":true},"encoding":{"x":{"field":"x","type":"quantitative","scale":{"domain":[1535,1595],"nice":false,"zero":false},"axis":{"orient":"bottom","values":[1540,1545,1550,1555,1560,1565,1570,1575,1580,1585,1590],"labels":false,"title":null}},"y":{"field":"y","type":"quantitative","scale":{"domain":[-80,-10],"nice":false,"zero":false,"clamp":true},"axis":{"orient":"left","values":[-30,-45,-60],"labelExpr":"datum.value === -45 ? '' : '-' + abs(datum.value)","labelPadding":26,"title":null}}}},
 {"data":{"values":[{}]},"mark":{"type":"rect","fill":"white","stroke":"#888888","strokeWidth":1.2},"encoding":{"x":{"datum":1535.25,"type":"quantitative","axis":{"orient":"top","values":[1540,1545,1550,1555,1560,1565,1570,1575,1580,1585,1590],"labels":false,"title":null}},"x2":{"datum":1545.9},"y":{"datum":-13,"type":"quantitative","axis":{"orient":"right","values":[-30,-45,-60],"labels":false,"title":null}},"y2":{"datum":-36}}},
 {"data":{"values":[{"t":"1564.7nm"}]},"mark":{"type":"text","fontSize":20,"fontWeight":"bold","font":"Liberation Serif","color":"black"},"encoding":{"x":{"datum":1540.6,"type":"quantitative","axis":null},"y":{"datum":-24.5,"type":"quantitative","axis":null},"text":{"field":"t","type":"nominal"}}}
]},
{"width":578,"height":88,"data":{"name":"p7"},"resolve":{"axis":{"x":"independent","y":"independent"}},"layer":[
 {"transform":[{"window":[{"op":"max","field":"y","as":"top"}],"frame":[-1,1],"sort":[{"field":"x"}]},{"filter":"datum.x <= 1551.5"}],"mark":{"type":"area","color":"#f01e8c","clip":true},"encoding":{"x":{"field":"x","type":"quantitative","axis":null,"scale":{"domain":[1535,1595],"nice":false,"zero":false}},"y":{"field":"top","type":"quantitative","axis":null,"scale":{"domain":[-80,-10],"nice":false,"zero":false,"clamp":true}},"y2":{"datum":-80}}},
 {"transform":[{"window":[{"op":"max","field":"y","as":"top"}],"frame":[-1,1],"sort":[{"field":"x"}]},{"filter":"datum.x >= 1575.5"}],"mark":{"type":"area","color":"#f01e8c","clip":true},"encoding":{"x":{"field":"x","type":"quantitative","axis":null},"y":{"field":"top","type":"quantitative","axis":null},"y2":{"datum":-80}}},
 {"mark":{"type":"line","color":"#f01e8c","strokeWidth":1.8,"clip":true},"encoding":{"x":{"field":"x","type":"quantitative","scale":{"domain":[1535,1595],"nice":false,"zero":false},"axis":{"orient":"bottom","values":[1540,1545,1550,1555,1560,1565,1570,1575,1580,1585,1590],"labels":false,"title":null}},"y":{"field":"y","type":"quantitative","scale":{"domain":[-80,-10],"nice":false,"zero":false,"clamp":true},"axis":{"orient":"left","values":[-30,-45,-60],"labelExpr":"datum.value === -45 ? '' : '-' + abs(datum.value)","labelPadding":26,"title":null}}}},
 {"data":{"values":[{}]},"mark":{"type":"rect","fill":"white","stroke":"#888888","strokeWidth":1.2},"encoding":{"x":{"datum":1535.25,"type":"quantitative","axis":{"orient":"top","values":[1540,1545,1550,1555,1560,1565,1570,1575,1580,1585,1590],"labels":false,"title":null}},"x2":{"datum":1545.9},"y":{"datum":-13,"type":"quantitative","axis":{"orient":"right","values":[-30,-45,-60],"labels":false,"title":null}},"y2":{"datum":-36}}},
 {"data":{"values":[{"t":"1561.7nm"}]},"mark":{"type":"text","fontSize":20,"fontWeight":"bold","font":"Liberation Serif","color":"black"},"encoding":{"x":{"datum":1540.6,"type":"quantitative","axis":null},"y":{"datum":-24.5,"type":"quantitative","axis":null},"text":{"field":"t","type":"nominal"}}}
]},
{"width":578,"height":88,"data":{"name":"p8"},"resolve":{"axis":{"x":"independent","y":"independent"}},"layer":[
 {"transform":[{"window":[{"op":"max","field":"y","as":"top"}],"frame":[-1,1],"sort":[{"field":"x"}]},{"filter":"datum.x <= 1541.5"}],"mark":{"type":"area","color":"#8a8a0c","clip":true},"encoding":{"x":{"field":"x","type":"quantitative","axis":null,"scale":{"domain":[1535,1595],"nice":false,"zero":false}},"y":{"field":"top","type":"quantitative","axis":null,"scale":{"domain":[-80,-10],"nice":false,"zero":false,"clamp":true}},"y2":{"datum":-80}}},
 {"transform":[{"window":[{"op":"max","field":"y","as":"top"}],"frame":[-1,1],"sort":[{"field":"x"}]},{"filter":"datum.x >= 1567.0"}],"mark":{"type":"area","color":"#8a8a0c","clip":true},"encoding":{"x":{"field":"x","type":"quantitative","axis":null},"y":{"field":"top","type":"quantitative","axis":null},"y2":{"datum":-80}}},
 {"mark":{"type":"line","color":"#8a8a0c","strokeWidth":1.8,"clip":true},"encoding":{"x":{"field":"x","type":"quantitative","scale":{"domain":[1535,1595],"nice":false,"zero":false},"axis":{"orient":"bottom","values":[1540,1545,1550,1555,1560,1565,1570,1575,1580,1585,1590],"labels":false,"title":null}},"y":{"field":"y","type":"quantitative","scale":{"domain":[-80,-10],"nice":false,"zero":false,"clamp":true},"axis":{"orient":"left","values":[-30,-45,-60],"labelExpr":"datum.value === -45 ? '' : '-' + abs(datum.value)","labelPadding":26,"title":null}}}},
 {"data":{"values":[{}]},"mark":{"type":"rect","fill":"white","stroke":"#888888","strokeWidth":1.2},"encoding":{"x":{"datum":1535.25,"type":"quantitative","axis":{"orient":"top","values":[1540,1545,1550,1555,1560,1565,1570,1575,1580,1585,1590],"labels":false,"title":null}},"x2":{"datum":1545.9},"y":{"datum":-13,"type":"quantitative","axis":{"orient":"right","values":[-30,-45,-60],"labels":false,"title":null}},"y2":{"datum":-36}}},
 {"data":{"values":[{"t":"1554.1nm"}]},"mark":{"type":"text","fontSize":20,"fontWeight":"bold","font":"Liberation Serif","color":"black"},"encoding":{"x":{"datum":1540.6,"type":"quantitative","axis":null},"y":{"datum":-24.5,"type":"quantitative","axis":null},"text":{"field":"t","type":"nominal"}}}
]},
{"width":578,"height":88,"data":{"name":"p9"},"resolve":{"axis":{"x":"independent","y":"independent"}},"layer":[
 {"transform":[{"window":[{"op":"max","field":"y","as":"top"}],"frame":[-1,1],"sort":[{"field":"x"}]},{"filter":"datum.x <= 1539.2"}],"mark":{"type":"area","color":"#9933ff","clip":true},"encoding":{"x":{"field":"x","type":"quantitative","axis":null,"scale":{"domain":[1535,1595],"nice":false,"zero":false}},"y":{"field":"top","type":"quantitative","axis":null,"scale":{"domain":[-80,-10],"nice":false,"zero":false,"clamp":true}},"y2":{"datum":-75}}},
 {"transform":[{"window":[{"op":"max","field":"y","as":"top"}],"frame":[-1,1],"sort":[{"field":"x"}]},{"filter":"datum.x >= 1571.0"}],"mark":{"type":"area","color":"#9933ff","clip":true},"encoding":{"x":{"field":"x","type":"quantitative","axis":null},"y":{"field":"top","type":"quantitative","axis":null},"y2":{"datum":-73}}},
 {"mark":{"type":"line","color":"#9933ff","strokeWidth":1.8,"clip":true},"encoding":{"x":{"field":"x","type":"quantitative","scale":{"domain":[1535,1595],"nice":false,"zero":false},"axis":{"orient":"bottom","values":[1540,1545,1550,1555,1560,1565,1570,1575,1580,1585,1590],"labelExpr":"datum.value % 10 === 0 ? '' + datum.value : ''","labelPadding":22,"labelFontSize":26,"title":"Wavelength (nm)","titlePadding":4}},"y":{"field":"y","type":"quantitative","scale":{"domain":[-80,-10],"nice":false,"zero":false,"clamp":true},"axis":{"orient":"left","values":[-30,-45,-60],"labelExpr":"datum.value === -45 ? '' : '-' + abs(datum.value)","labelPadding":26,"title":null}}}},
 {"data":{"values":[{}]},"mark":{"type":"rect","fill":"white","stroke":"#555555","strokeWidth":1.2},"encoding":{"x":{"datum":1535.25,"type":"quantitative","axis":{"orient":"top","values":[1540,1545,1550,1555,1560,1565,1570,1575,1580,1585,1590],"labels":false,"title":null}},"x2":{"datum":1545.9},"y":{"datum":-13,"type":"quantitative","axis":{"orient":"right","values":[-30,-45,-60],"labels":false,"title":null}},"y2":{"datum":-36}}},
 {"data":{"values":[{"t":"1550.7nm"}]},"mark":{"type":"text","fontSize":20,"fontWeight":"bold","font":"Liberation Serif","color":"black"},"encoding":{"x":{"datum":1540.6,"type":"quantitative","axis":null},"y":{"datum":-24.5,"type":"quantitative","axis":null},"text":{"field":"t","type":"nominal"}}}
]}
]}
],
"spacing":6
}
